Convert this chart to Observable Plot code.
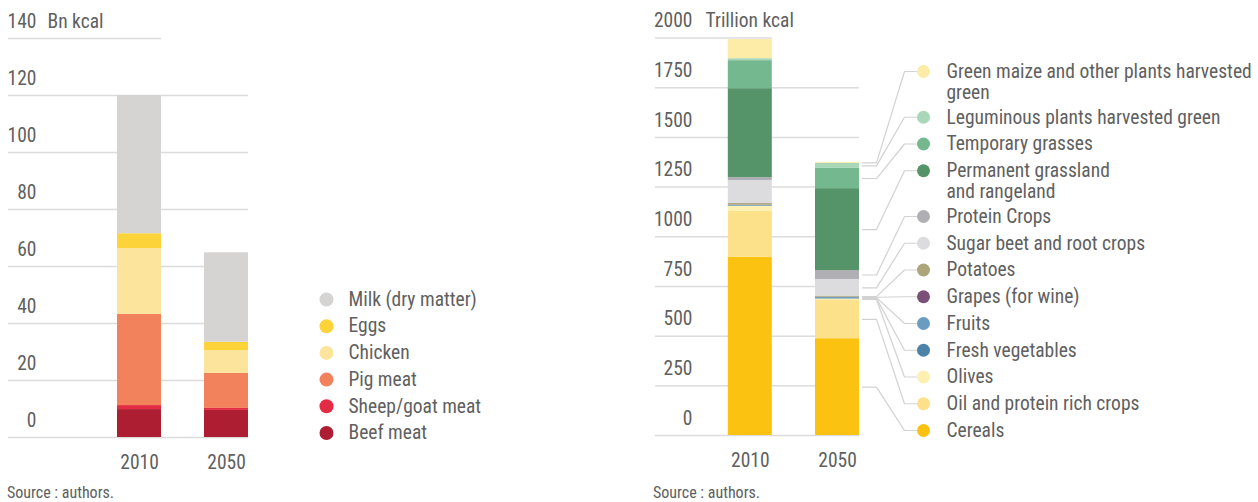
<!DOCTYPE html>
<html><head><meta charset="utf-8">
<script src="https://cdn.jsdelivr.net/npm/d3@7"></script>
<script src="https://cdn.jsdelivr.net/npm/@observablehq/plot@0.6"></script>
<style>
body{margin:0;background:#fff;width:1258px;height:502px;overflow:hidden;position:relative;font-family:"Roboto Condensed","Liberation Sans Narrow",sans-serif;color:#606060}
.panel{position:absolute;top:0}
.caption{position:absolute;font-size:16px;line-height:20px;white-space:nowrap}
</style></head><body>
<div id="left" class="panel" style="left:0"></div>
<div id="right" class="panel" style="left:640px"></div>
<div class="caption" id="cap1" style="left:7px;top:483px"></div>
<div class="caption" id="cap2" style="left:653px;top:483px"></div>
<script>
// ---------- DATA ----------
const years = ["2010", "2050"];
const source = "Source : authors.";

// Left chart (bottom -> top of stack)
const meatCategories = ["Beef meat", "Sheep/goat meat", "Pig meat", "Chicken", "Eggs", "Milk (dry matter)"];
const meat2010 = [9.8, 1.4, 32, 23.1, 5.2, 48.5];
const meat2050 = [9.5, 0.7, 12.3, 8, 2.9, 31.4];
const meatColors = ["#ae1e32", "#e32c44", "#f2825c", "#fce49c", "#fcd43a", "#d5d4d2"];
const meatTicks = [0, 20, 40, 60, 80, 100, 120, 140];
const meatUnit = "Bn kcal";

// Right chart (bottom -> top of stack)
const cropCategories = ["Cereals", "Oil and protein rich crops", "Olives", "Fresh vegetables", "Fruits",
  "Grapes (for wine)", "Potatoes", "Sugar beet and root crops", "Protein Crops",
  "Permanent grassland and rangeland", "Temporary grasses", "Leguminous plants harvested green",
  "Green maize and other plants harvested green"];
const crop2010 = [897, 231, 25, 3, 2, 1, 8, 116, 15, 447, 141, 10, 96];
const crop2050 = [487, 195, 5, 6, 2, 1, 5, 84, 45, 412, 102, 25, 5];
const cropColors = ["#fbc212", "#fde08a", "#fef0b0", "#4a82a8", "#6a9cc0", "#7a5078", "#aca47a",
  "#dcdcde", "#b0b0b4", "#559468", "#74b890", "#a8d8b8", "#fdeca8"];
const cropLegendLabels = ["Cereals", "Oil and protein rich crops", "Olives", "Fresh vegetables", "Fruits",
  "Grapes (for wine)", "Potatoes", "Sugar beet and root crops", "Protein Crops",
  "Permanent grassland\nand rangeland", "Temporary grasses", "Leguminous plants harvested green",
  "Green maize and other plants harvested\ngreen"];
const cropTicks = [0, 250, 500, 750, 1000, 1250, 1500, 1750, 2000];
const cropUnit = "Trillion kcal";

// ---------- DRAWING ----------
const FONT = '"Roboto Condensed","Liberation Sans Narrow",sans-serif';
const TEXT = "#606060";
const GRID = "#dcdcdc";
const FS = 19.5;

function panel(cfg) {
  const L = cfg.layout;
  const top = cfg.ticks[cfg.ticks.length - 1];
  // Mirrors of Plot's own x and y scales (same domain & range) for laying out legend entries
  const xs = d3.scaleLinear([0, 1], [L.c0, L.c1]);
  const ys = d3.scaleLinear([0, top], [L.y0, L.yTop]);
  const hw = (L.barW / 2) / (L.c1 - L.c0);

  const rows = [];
  years.forEach((yr, i) => {
    let acc = 0;
    cfg.categories.forEach((c, k) => {
      const v = cfg.values[i][k];
      rows.push({year: yr, i, cat: c, k, y1: acc, y2: acc + v});
      acc += v;
    });
  });

  // legend layout (bottom item first)
  const legend = [];
  const legendLines = [];
  let prev = null;
  cfg.legendLabels.forEach((lab, k) => {
    const lines = lab.split("\n");
    const first = prev === null ? L.legendBottom : prev - L.pitch - (lines.length - 1) * L.extraLine;
    prev = first;
    legend.push({cat: cfg.categories[k], k, yPx: first, y: ys.invert(first)});
    lines.forEach((t, j) => legendLines.push({text: t, y: ys.invert(first + j * L.lineH)}));
  });
  const xDot = xs.invert(L.dotX), xText = xs.invert(L.dotX + L.textGap);

  const marks = [
    // gridlines
    Plot.ruleY(cfg.ticks, {y: d => d, x1: xs.invert(L.gridX0), x2: d => d === top ? 0 + hw : 1 + hw,
      stroke: GRID, strokeWidth: 1.5}),
    // tick labels
    Plot.text(cfg.ticks, {y: d => d, frameAnchor: "left", text: d => String(d), textAnchor: "end",
      dy: -17, fill: TEXT, fontSize: FS}),
    Plot.text([top], {y: d => d, frameAnchor: "left", text: () => cfg.unit, textAnchor: "start",
      dx: L.unitDx, dy: -17, fill: TEXT, fontSize: FS}),
    // bars
    Plot.rect(rows, {x1: d => d.i - hw, x2: d => d.i + hw, y1: "y1", y2: "y2", fill: "cat"}),
    // year labels
    Plot.text(years, {x: (d, i) => i, y: () => 0, text: d => d, dy: 25, fill: TEXT, fontSize: FS}),
  ];

  if (cfg.connectors) {
    const r2050 = rows.filter(d => d.i === 1);
    const pts = [];
    const gap = L.connGap / (L.c1 - L.c0);
    r2050.forEach(d => {
      const lg = legend[d.k];
      const ym = (d.y1 + d.y2) / 2;
      pts.push({cat: d.cat, x: 1 + hw + gap, y: ym});
      pts.push({cat: d.cat, x: xs.invert(L.cx1), y: ym});
      pts.push({cat: d.cat, x: xs.invert(L.cx2), y: lg.y});
      pts.push({cat: d.cat, x: xs.invert(L.cx3), y: lg.y});
    });
    marks.push(Plot.line(pts, {x: "x", y: "y", z: "cat", stroke: "#d2d2d2", strokeWidth: 1.2, curve: "linear"}));
  }

  marks.push(
    Plot.dot(legend, {x: () => xDot, y: "y", r: L.dotR, fill: "cat", stroke: null}),
    Plot.text(legendLines, {x: () => xText, y: "y", text: "text", textAnchor: "start", fill: TEXT, fontSize: FS})
  );

  return Plot.plot({
    width: L.width, height: L.height,
    marginLeft: L.labelRight, marginRight: 0, marginTop: 0, marginBottom: 0,
    x: {type: "linear", domain: [0, 1], range: [L.c0, L.c1], axis: null},
    y: {type: "linear", domain: [0, top], range: [L.y0, L.yTop], axis: null},
    color: {domain: cfg.categories, range: cfg.colors},
    style: {fontFamily: FONT, background: "transparent", overflow: "visible"},
    marks
  });
}

const leftChart = panel({
  categories: meatCategories, values: [meat2010, meat2050], colors: meatColors,
  ticks: meatTicks, unit: meatUnit, legendLabels: meatCategories, connectors: false,
  layout: {width: 620, height: 478, c0: 139, c1: 226, barW: 44, y0: 437, yTop: 38,
    gridX0: 8, labelRight: 36, unitDx: 11, dotX: 326, textGap: 22, dotR: 7,
    legendBottom: 432.5, pitch: 26.7, extraLine: 19, lineH: 21}
});
const rightChart = panel({
  categories: cropCategories, values: [crop2010, crop2050], colors: cropColors,
  ticks: cropTicks, unit: cropUnit, legendLabels: cropLegendLabels, connectors: true,
  layout: {width: 618, height: 478, c0: 109.8, c1: 197, barW: 44, y0: 435, yTop: 37.5,
    gridX0: 15, labelRight: 52, unitDx: 13, dotX: 283, textGap: 23, dotR: 6.5,
    legendBottom: 430, pitch: 26.75, extraLine: 19, lineH: 21,
    connGap: 3, cx1: 236, cx2: 264, cx3: 276}
});
document.getElementById("left").appendChild(leftChart);
document.getElementById("right").appendChild(rightChart);
document.getElementById("cap1").textContent = source;
document.getElementById("cap2").textContent = source;
</script>
</body></html>
